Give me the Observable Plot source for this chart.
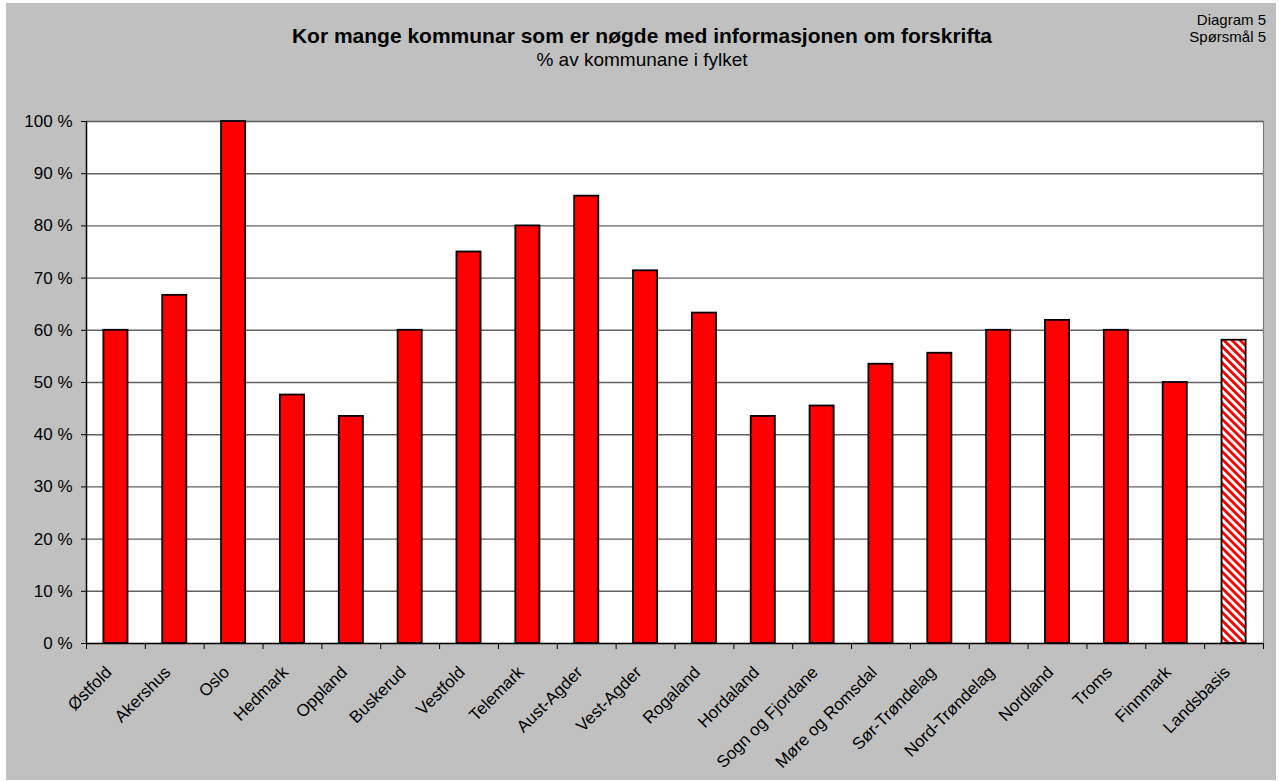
<!DOCTYPE html>
<html>
<head>
<meta charset="utf-8">
<script src="https://cdn.jsdelivr.net/npm/d3@7"></script>
<script src="https://cdn.jsdelivr.net/npm/@observablehq/plot@0.6"></script>
<style>
  html, body { margin: 0; padding: 0; background: #ffffff; }
  #chart { position: absolute; left: 6px; top: 3px; width: 1270px; height: 777px; background: #c0c0c0; font-family: "Liberation Sans", Arial, sans-serif; color: #000; }
  #title { position: absolute; left: 0; width: 1272px; top: 21px; text-align: center; font-weight: bold; font-size: 21px; line-height: 24px; white-space: nowrap; }
  #subtitle { position: absolute; left: 0; width: 1272px; top: 47px; text-align: center; font-size: 19px; line-height: 20px; white-space: nowrap; }
  #corner { position: absolute; right: 10px; top: 9px; text-align: right; font-size: 15px; line-height: 16.5px; white-space: nowrap; }
  #plot { position: absolute; left: 0; top: 0; }
</style>
</head>
<body>
<div id="chart">
  <div id="title">Kor mange kommunar som er nøgde med informasjonen om forskrifta</div>
  <div id="subtitle">% av kommunane i fylket</div>
  <div id="corner">Diagram 5<br>Spørsmål 5</div>
  <div id="plot"></div>
</div>
<script>
const categories = ["Østfold","Akershus","Oslo","Hedmark","Oppland","Buskerud","Vestfold","Telemark","Aust-Agder","Vest-Agder","Rogaland","Hordaland","Sogn og Fjordane","Møre og Romsdal","Sør-Trøndelag","Nord-Trøndelag","Nordland","Troms","Finnmark","Landsbasis"];
const values = [60, 66.7, 100, 47.6, 43.5, 60, 75, 80, 85.7, 71.4, 63.3, 43.5, 45.5, 53.5, 55.6, 60, 61.9, 60, 50, 58.1];
const yTicks = [0, 10, 20, 30, 40, 50, 60, 70, 80, 90, 100];
const totalLabel = "Landsbasis";

const data = categories.map((c, i) => ({cat: c, value: values[i]}));
const regular = data.filter(d => d.cat !== totalLabel);
const total = data.filter(d => d.cat === totalLabel);

const W = 1270, H = 777;
const mL = 80, mR = 13, mT = 118, mB = 137;
const step = (W - mL - mR) / categories.length;

const svg = Plot.plot({
  width: W,
  height: H,
  marginLeft: mL,
  marginRight: mR,
  marginTop: mT,
  marginBottom: mB,
  style: {background: "transparent", fontFamily: "Liberation Sans, Arial, sans-serif", fontSize: "17px", color: "#000", overflow: "visible"},
  x: {domain: categories, paddingInner: 0.59, paddingOuter: 0.295, round: false, label: null, axis: null},
  y: {domain: [0, 100], label: null, axis: null},
  marks: [
    Plot.frame({fill: "#ffffff", stroke: "#7a7a7a", strokeWidth: 1.2}),
    Plot.ruleY(yTicks.filter(t => t > 0), {stroke: "#606060", strokeWidth: 1.4}),
    Plot.barY(regular, {x: "cat", y: "value", fill: "#ff0000", stroke: "#000000", strokeWidth: 1.8}),
    Plot.barY(total, {x: "cat", y: "value", fill: "url(#hatch)", stroke: "#000000", strokeWidth: 1.8}),
    Plot.ruleY([0], {stroke: "#000000", strokeWidth: 1.4}),
    Plot.ruleX([categories[0]], {dx: -step / 2, stroke: "#000000", strokeWidth: 1.4}),
    Plot.axisY({ticks: yTicks, tickFormat: d => d + " %", tickSize: 5, tickPadding: 9, fontSize: 17, stroke: "#000"}),
    Plot.axisX({tickSize: 6, dx: -step / 2, tickFormat: () => "", stroke: "#000"}),
    Plot.axisX([categories[categories.length - 1]], {tickSize: 6, dx: step / 2, tickFormat: () => "", stroke: "#000"}),
    Plot.axisX({tickSize: 0, tickRotate: -45, tickPadding: 26, dx: -7, fontSize: 17, label: null})
  ]
});

const defs = d3.select(svg).insert("defs", ":first-child");
const pat = defs.append("pattern")
  .attr("id", "hatch")
  .attr("patternUnits", "userSpaceOnUse")
  .attr("width", 5.7)
  .attr("height", 8)
  .attr("patternTransform", "rotate(-45)");
pat.append("rect").attr("width", 5.7).attr("height", 8).attr("fill", "#ffffff");
pat.append("rect").attr("width", 2.85).attr("height", 8).attr("fill", "#ff0000");

document.getElementById("plot").appendChild(svg);
</script>
</body>
</html>
